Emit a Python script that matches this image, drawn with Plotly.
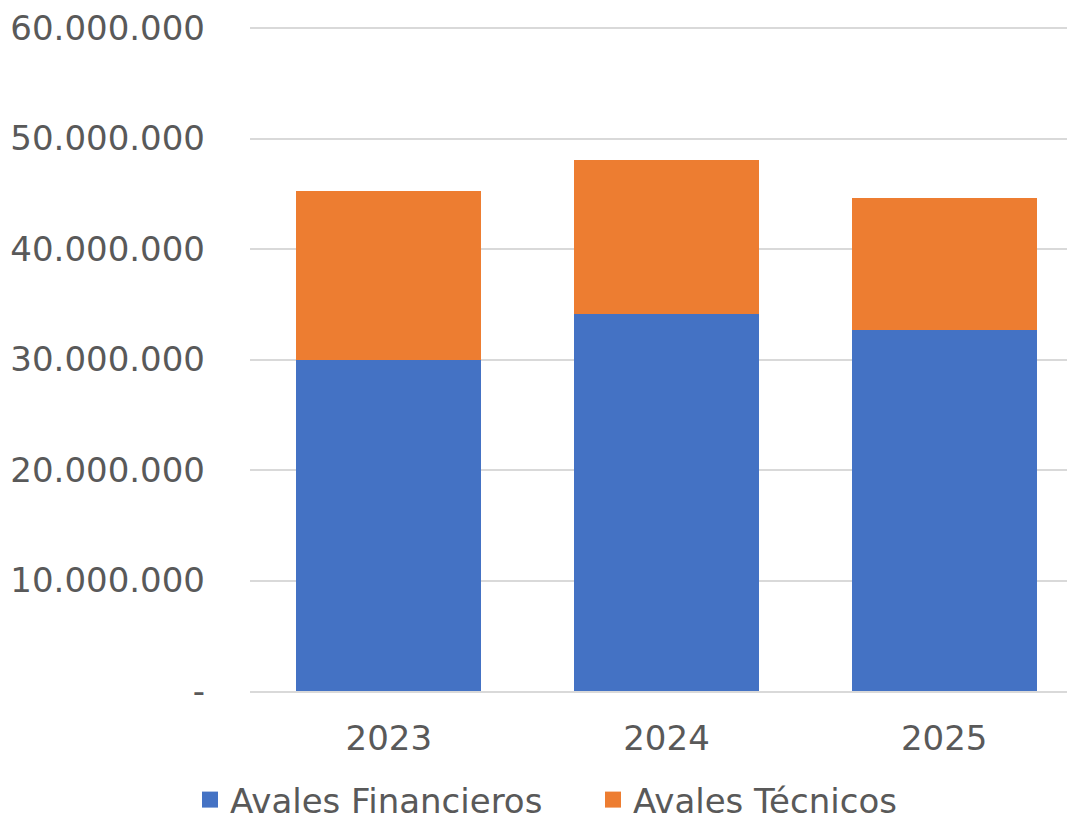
import plotly.graph_objects as go

years = ["2023", "2024", "2025"]
avales_financieros = [30000000, 34100000, 32700000]
avales_tecnicos = [15300000, 13950000, 11900000]
tick_vals = [0, 10000000, 20000000, 30000000, 40000000, 50000000, 60000000]
tick_text = ["-", "10.000.000", "20.000.000", "30.000.000", "40.000.000", "50.000.000", "60.000.000"]

TXT = "#595959"
FONT = "DejaVu Sans"
BLUE = "#4472C4"
ORANGE = "#ED7D31"

fig = go.Figure()
fig.add_trace(go.Bar(name="Avales Financieros", x=years, y=avales_financieros,
                     marker=dict(color=BLUE, line=dict(width=0)), showlegend=False))
fig.add_trace(go.Bar(name="Avales Técnicos", x=years, y=avales_tecnicos,
                     marker=dict(color=ORANGE, line=dict(width=0)), showlegend=False))
# legend entries
fig.add_trace(go.Scatter(name="Avales Financieros", x=[None], y=[None], mode="markers",
                         marker=dict(symbol="square", size=16, color=BLUE),
                         legend="legend"))
fig.add_trace(go.Scatter(name="Avales Técnicos", x=[None], y=[None], mode="markers",
                         marker=dict(symbol="square", size=16, color=ORANGE),
                         legend="legend2"))

leg_common = dict(orientation="h", xref="container", xanchor="left",
                  yref="container", y=-0.003, yanchor="bottom",
                  font=dict(size=34, color=TXT), itemsizing="trace", itemwidth=30,
                  bgcolor="rgba(0,0,0,0)")

fig.update_layout(
    barmode="stack",
    bargap=0.333,
    width=1075, height=821,
    margin=dict(l=242, r=0, t=19, b=138, autoexpand=False),
    paper_bgcolor="white", plot_bgcolor="white",
    font=dict(family=FONT, color=TXT, size=34),
    showlegend=True,
    legend=dict(x=182 / 1075, **leg_common),
    legend2=dict(x=585 / 1075, **leg_common),
    yaxis=dict(range=[0, 60100000], tickvals=tick_vals, ticktext=tick_text,
               showgrid=True, gridcolor="#D9D9D9", gridwidth=1.5,
               zeroline=False, showline=False, ticks="", ticklabelstandoff=44,
               tickfont=dict(size=34, color=TXT)),
    xaxis=dict(showline=True, linecolor="#D9D9D9", linewidth=1.5, ticks="",
               tickfont=dict(size=34, color=TXT), ticklabelstandoff=16),
)

fig.write_html("out.html")
